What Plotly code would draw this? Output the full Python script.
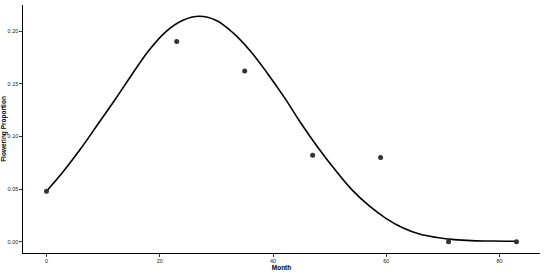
import plotly.graph_objects as go

# observed flowering proportions
months = [0, 23, 35, 47, 59, 71, 83]
proportion = [0.048, 0.190, 0.162, 0.082, 0.080, 0.000, 0.000]

# fitted curve
fit_month = [0, 3, 6, 9, 12, 15, 18, 21, 24, 27, 30, 33, 36, 39, 42, 45,
             48, 51, 54, 57, 60, 63, 66, 69, 72, 75, 78, 81, 83]
fit_value = [0.048, 0.067, 0.088, 0.111, 0.134, 0.158, 0.181, 0.199, 0.210,
             0.214, 0.210, 0.198, 0.181, 0.160, 0.137, 0.112, 0.089, 0.068,
             0.049, 0.034, 0.022, 0.013, 0.007, 0.004, 0.002, 0.001, 0.0007,
             0.0005, 0.0004]

x_ticks = [0, 20, 40, 60, 80]
y_ticks = [0.00, 0.05, 0.10, 0.15, 0.20]

fig = go.Figure()

fig.add_trace(
    go.Scatter(
        x=fit_month,
        y=fit_value,
        mode="lines",
        line=dict(color="black", width=1.6, shape="spline", smoothing=1.0),
        showlegend=False,
    )
)

fig.add_trace(
    go.Scatter(
        x=months,
        y=proportion,
        mode="markers",
        marker=dict(color="#333333", size=5),
        showlegend=False,
    )
)

axis_font = dict(family="Liberation Sans, Arial, sans-serif", size=5.5, color="#222222")
title_font = dict(family="Liberation Sans, Arial, sans-serif", size=6.5, color="black")

fig.update_layout(
    width=550,
    height=272,
    margin=dict(l=23, r=10, t=5, b=19),
    plot_bgcolor="white",
    paper_bgcolor="white",
    xaxis=dict(
        range=[-4.15, 87.15],
        tickvals=x_ticks,
        ticks="outside",
        ticklen=2.5,
        tickwidth=1,
        tickcolor="#333333",
        showline=True,
        linecolor="black",
        linewidth=1.2,
        showgrid=False,
        zeroline=False,
        tickfont=axis_font,
        title=dict(text="<b>Month</b>", font=title_font, standoff=1),
        automargin=False,
    ),
    yaxis=dict(
        range=[-0.0107, 0.2247],
        tickvals=y_ticks,
        tickformat=".2f",
        ticks="outside",
        ticklen=2.5,
        tickwidth=1,
        tickcolor="#333333",
        showline=True,
        linecolor="black",
        linewidth=1.2,
        showgrid=False,
        zeroline=False,
        tickfont=axis_font,
        title=dict(text="<b>Flowering Proportion</b>", font=title_font, standoff=1),
        automargin=False,
    ),
)

# drop the browser's default body margin so the figure fills the window
fig.write_html(
    "out.html",
    config={"displayModeBar": False},
    post_script="document.body.style.margin='0';",
)
